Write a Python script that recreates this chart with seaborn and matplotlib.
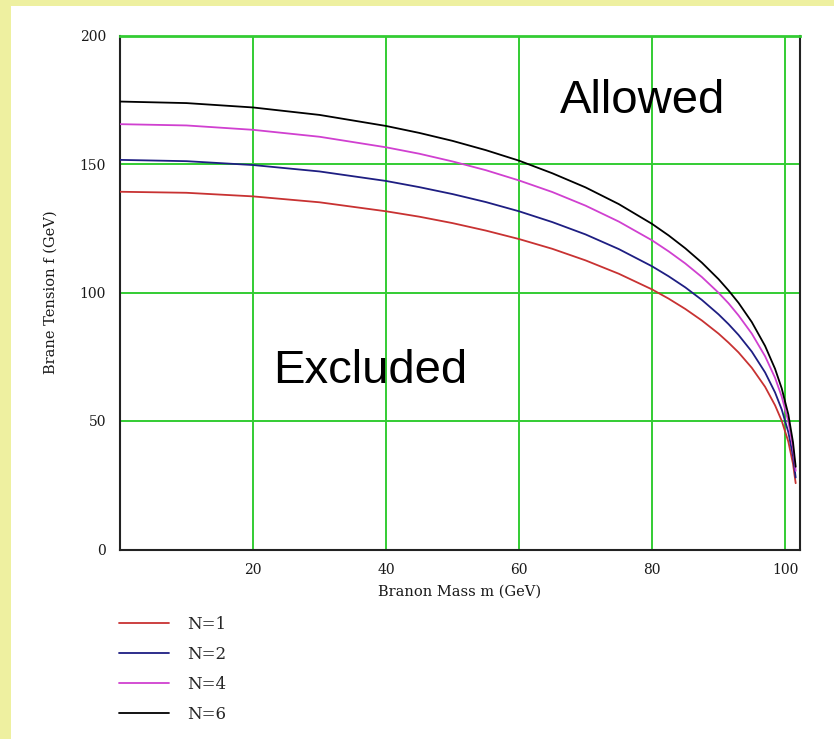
import numpy as np
import pandas as pd
import matplotlib
matplotlib.use("Agg")
import matplotlib.pyplot as plt
import seaborn as sns
from matplotlib.patches import Rectangle

# ---- data ----
mass = [0, 10, 20, 30, 40, 45, 50, 55, 60, 65, 70, 75, 80, 82.5, 85, 87.5, 90, 91.5, 93, 95, 97, 98.5, 99.5, 100.5, 101.2, 101.6]
f_n1 = [139.2, 138.8, 137.4, 135.1, 131.6, 129.5, 127.0, 124.1, 120.8, 117.0, 112.5, 107.3, 101.2, 97.6, 93.6, 89.1, 84.0, 80.5, 76.7, 70.7, 63.3, 56.1, 50.1, 41.9, 33.3, 25.8]
f_n2 = [151.6, 151.1, 149.6, 147.1, 143.4, 141.0, 138.3, 135.2, 131.6, 127.4, 122.6, 116.9, 110.2, 106.3, 102.0, 97.1, 91.5, 87.7, 83.5, 77.0, 68.9, 61.1, 54.5, 45.6, 36.3, 28.0]
f_n4 = [165.5, 165.0, 163.3, 160.6, 156.5, 154.0, 151.0, 147.6, 143.6, 139.1, 133.8, 127.6, 120.3, 116.0, 111.3, 106.0, 99.9, 95.8, 91.1, 84.0, 75.2, 66.8, 59.5, 49.8, 39.6, 30.6]
f_n6 = [174.3, 173.7, 172.0, 169.1, 164.8, 162.1, 159.0, 155.4, 151.3, 146.4, 140.9, 134.4, 126.7, 122.2, 117.2, 111.6, 105.2, 100.8, 96.0, 88.5, 79.2, 70.3, 62.7, 52.5, 41.7, 32.2]
series_labels = ["N=1", "N=2", "N=4", "N=6"]
series_colors = ["#c83232", "#1e1e82", "#d040d0", "#000000"]
x_ticks = [20, 40, 60, 80, 100]
y_ticks = [0, 50, 100, 150, 200]

frames = []
for lab, vals in zip(series_labels, [f_n1, f_n2, f_n4, f_n6]):
    frames.append(pd.DataFrame({"m": mass, "f": vals, "N": lab}))
df = pd.concat(frames, ignore_index=True)

sns.set_style("white")
plt.rcParams["font.family"] = ["DejaVu Serif"]

W, H = 834, 739
fig = plt.figure(figsize=(W / 100, H / 100), dpi=100, facecolor="#eef0a0")
bg = Rectangle((11 / W, 0), 1 - 11 / W, 1 - 6 / H, transform=fig.transFigure,
               facecolor="white", edgecolor="none", zorder=-10)
fig.add_artist(bg)

ax = fig.add_axes([120 / W, (H - 549.5) / H, 680 / W, (549.5 - 35.5) / H])
ax.set_zorder(5)
ax.set_facecolor("white")

sns.lineplot(data=df, x="m", y="f", hue="N", palette=series_colors, ax=ax,
             linewidth=1.3, legend=False, zorder=3)

ax.set_xlim(0, 102.25)
ax.set_ylim(0, 200)
ax.set_xticks(x_ticks)
ax.set_yticks(y_ticks)
ax.grid(True, color="#33cc33", linewidth=1.4, zorder=1)
ax.set_axisbelow(True)
for s in ["left", "bottom", "right"]:
    ax.spines[s].set_visible(True)
    ax.spines[s].set_color("#222222")
    ax.spines[s].set_linewidth(1.5)
ax.spines["top"].set_color("#33cc33")
ax.spines["top"].set_linewidth(2.0)
ax.tick_params(axis="both", length=0, labelsize=10, colors="#1a1a1a")
ax.tick_params(axis="x", pad=10)
ax.tick_params(axis="y", pad=10)

ax.set_xlabel("Branon Mass m (GeV)", fontsize=10.5, labelpad=5, color="#1a1a1a")
ax.set_ylabel("Brane Tension f (GeV)", fontsize=10.5, labelpad=16, color="#1a1a1a")

ax.text(78.5, 169.9, "Allowed", fontsize=34, family="Liberation Sans", ha="center",
        va="baseline", color="black", zorder=5)
ax.text(37.6, 64.7, "Excluded", fontsize=34, family="Liberation Sans", ha="center",
        va="baseline", color="black", zorder=5)

handles = ax.get_lines()[:4]
leg = fig.legend(handles, series_labels, loc="upper left",
                 bbox_to_anchor=(112 / W, 1 - 609 / H), frameon=False,
                 fontsize=12, handlelength=3.0, handletextpad=1.1, labelspacing=0.78,
                 borderaxespad=0)
leg.set_zorder(6)

fig.savefig("out.png", dpi=100, facecolor=fig.get_facecolor())
